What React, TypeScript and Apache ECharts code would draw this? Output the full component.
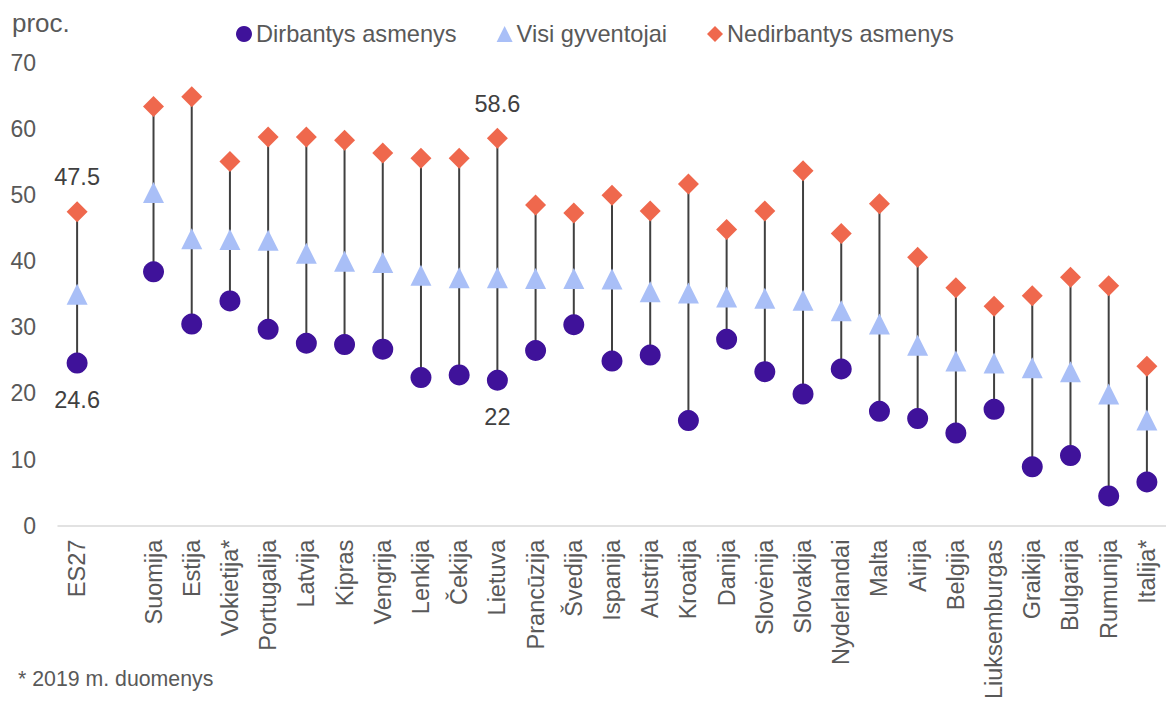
import React, { useEffect, useRef } from "react";
import * as echarts from "echarts";

const categories = [
  "ES27", "", "Suomija", "Estija", "Vokietija*", "Portugalija", "Latvija", "Kipras", "Vengrija",
  "Lenkija", "Čekija", "Lietuva", "Prancūzija", "Švedija", "Ispanija", "Austrija", "Kroatija",
  "Danija", "Slovėnija", "Slovakija", "Nyderlandai", "Malta", "Airija", "Belgija",
  "Liuksemburgas", "Graikija", "Bulgarija", "Rumunija", "Italija*",
];
const dirbantys = [
  24.6, null, 38.4, 30.5, 34.0, 29.7, 27.6, 27.4, 26.7, 22.4, 22.8, 22, 26.5, 30.4, 24.9, 25.8,
  15.9, 28.2, 23.3, 19.9, 23.7, 17.3, 16.2, 14.0, 17.6, 8.9, 10.6, 4.5, 6.6,
];
const visi = [
  35.0, null, 50.4, 43.4, 43.3, 43.2, 41.2, 40.0, 39.8, 37.9, 37.5, 37.5, 37.4, 37.4, 37.3, 35.4,
  35.2, 34.6, 34.4, 34.1, 32.5, 30.5, 27.3, 24.9, 24.6, 23.9, 23.3, 19.9, 16.0,
];
const nedirbantys = [
  47.5, null, 63.4, 64.9, 55.1, 58.8, 58.8, 58.3, 56.4, 55.6, 55.6, 58.6, 48.5, 47.3, 50.0, 47.6,
  51.7, 44.8, 47.6, 53.7, 44.2, 48.7, 40.6, 36.0, 33.2, 34.8, 37.6, 36.3, 24.1,
];
const labeledIdx = [0, 11];
const seriesNames = ["Dirbantys asmenys", "Visi gyventojai", "Nedirbantys asmenys"];

const FONT = "'Liberation Sans', Arial, sans-serif";

export default function App() {
  const ref = useRef<HTMLDivElement>(null);
  useEffect(() => {
    if (!ref.current) return;
    const chart = echarts.init(ref.current, undefined, { renderer: "svg" });

    const ranges: any[] = [];
    categories.forEach((_, i) => {
      const vals = [dirbantys[i], visi[i], nedirbantys[i]].filter((v) => v != null) as number[];
      if (vals.length) ranges.push([i, Math.min(...vals), Math.max(...vals)]);
    });

    const mk = (arr: (number | null)[], pos: "top" | "bottom", dist: number) =>
      arr.map((v, i) =>
        labeledIdx.includes(i) && v != null
          ? {
              value: v,
              label: {
                show: true,
                position: pos,
                distance: dist,
                color: "#404040",
                fontSize: 23.5,
                fontFamily: FONT,
              },
            }
          : v
      );

    chart.setOption({
      animation: false,
      textStyle: { fontFamily: FONT },
      grid: { left: 58, top: 63, height: 464, width: 1116.5, containLabel: false },
      legend: {
        data: [
          { name: seriesNames[0], icon: "circle" },
          { name: seriesNames[1], icon: "triangle" },
          { name: seriesNames[2], icon: "diamond" },
        ],
        left: 231,
        top: 17,
        itemWidth: 16,
        itemHeight: 16,
        itemGap: 40,
        textStyle: { fontSize: 23.6, color: "#595959", fontFamily: FONT, padding: [0, 0, 0, -1] },
      },
      xAxis: {
        type: "category",
        data: categories,
        axisTick: { show: false },
        axisLine: { lineStyle: { color: "#d9d9d9", width: 1.5 } },
        axisLabel: {
          interval: 0,
          rotate: 90,
          margin: 14,
          fontSize: 23.5,
          color: "#595959",
          fontFamily: FONT,
        },
      },
      yAxis: {
        type: "value",
        min: 0,
        max: 70,
        interval: 10,
        splitLine: { show: false },
        axisLine: { show: false },
        axisTick: { show: false },
        axisLabel: { fontSize: 23, color: "#595959", margin: 22, fontFamily: FONT },
      },
      graphic: [
        {
          type: "text",
          left: 12,
          top: 10,
          style: { text: "proc.", fontSize: 26, fill: "#595959", fontFamily: FONT },
        },
        {
          type: "text",
          left: 18,
          top: 668,
          style: { text: "* 2019 m. duomenys", fontSize: 21.3, fill: "#595959", fontFamily: FONT },
        },
      ],
      series: [
        {
          type: "custom",
          silent: true,
          data: ranges,
          encode: { x: 0, y: [1, 2] },
          renderItem: (params: any, api: any) => {
            const x = api.value(0);
            const p1 = api.coord([x, api.value(1)]);
            const p2 = api.coord([x, api.value(2)]);
            return {
              type: "line",
              shape: { x1: p1[0], y1: p1[1], x2: p2[0], y2: p2[1] },
              style: { stroke: "#404040", lineWidth: 2 },
            };
          },
          z: 1,
        },
        {
          name: seriesNames[0],
          type: "scatter",
          symbol: "circle",
          symbolSize: 21,
          itemStyle: { color: "#3f129a", opacity: 1 },
          data: mk(dirbantys, "bottom", 14),
          z: 3,
        },
        {
          name: seriesNames[1],
          type: "scatter",
          symbol: "triangle",
          symbolSize: 21,
          itemStyle: { color: "#a9bff7", opacity: 1 },
          data: visi,
          z: 3,
        },
        {
          name: seriesNames[2],
          type: "scatter",
          symbol: "diamond",
          symbolSize: 21,
          itemStyle: { color: "#ef684d", opacity: 1 },
          data: mk(nedirbantys, "top", 12),
          z: 3,
        },
      ],
    });
    return () => chart.dispose();
  }, []);
  return (
    <div
      ref={ref}
      style={{ position: "fixed", left: 0, top: 0, width: 1166, height: 702, background: "#fff" }}
    />
  );
}
